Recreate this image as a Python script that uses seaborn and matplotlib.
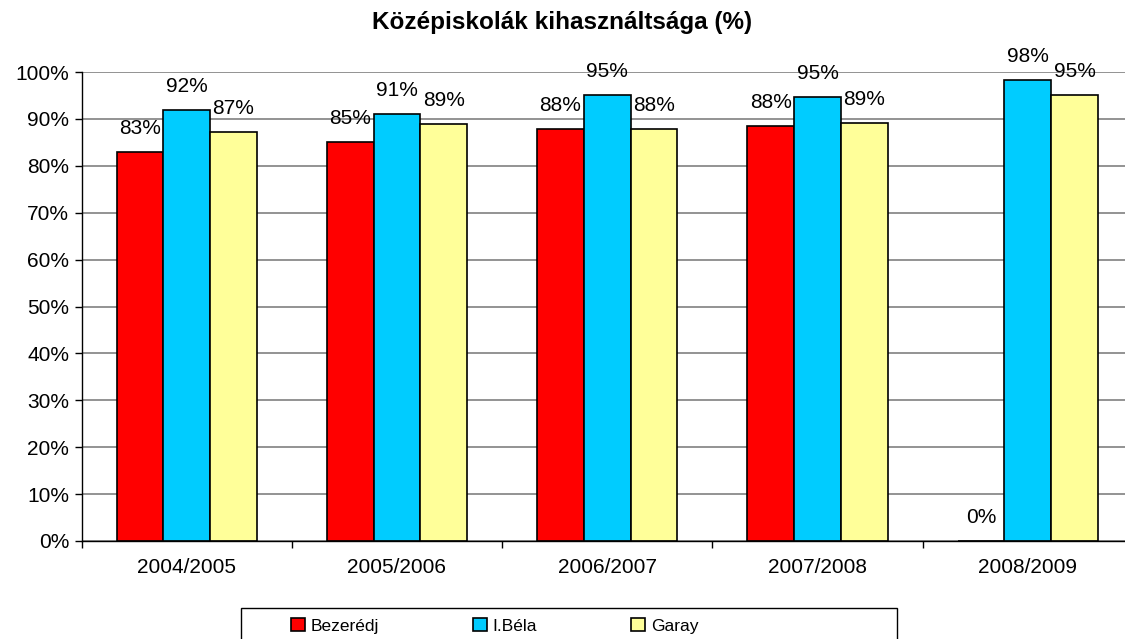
import matplotlib
matplotlib.use("Agg")
import matplotlib.pyplot as plt
import seaborn as sns
import pandas as pd
import numpy as np
from matplotlib.ticker import FixedLocator, PercentFormatter
from matplotlib.patches import Rectangle

years = ["2004/2005", "2005/2006", "2006/2007", "2007/2008", "2008/2009"]
schools = ["Bezerédj", "I.Béla", "Garay"]
bezeredj = [83.0, 85.0, 87.8, 88.5, 0.0]
ibela = [92.0, 91.0, 95.1, 94.7, 98.3]
garay = [87.3, 89.0, 87.8, 89.2, 95.1]
colors = ["#FF0000", "#00CCFF", "#FFFF99"]

rows = []
for s, vals in zip(schools, [bezeredj, ibela, garay]):
    for y, v in zip(years, vals):
        rows.append({"Év": y, "Iskola": s, "Érték": v})
df = pd.DataFrame(rows)

sns.set_theme(style="white")
plt.rcParams['font.family'] = ['Liberation Sans', 'DejaVu Sans']
plt.rcParams['text.color'] = 'black'
plt.rcParams['xtick.color'] = 'black'
plt.rcParams['ytick.color'] = 'black'
plt.rcParams['axes.labelcolor'] = 'black'

W, H = 1125, 639
fig = plt.figure(figsize=(W / 100, H / 100), dpi=100)
ax = fig.add_axes([81.5 / W, (H - 541) / H, 1051.5 / W, 469 / H])

sns.barplot(data=df, x="Év", y="Érték", hue="Iskola", order=years,
            hue_order=schools, palette=colors, width=0.667, saturation=1,
            edgecolor="black", linewidth=1.2, ax=ax, legend=True, errorbar=None)

for cont in ax.containers:
    labels = [f"{v:.0f}%" for v in cont.datavalues]
    ax.bar_label(cont, labels=labels, padding=10, fontsize=15, color='black')

ax.set_ylim(0, 100)
ax.set_xlim(-0.5, 4.5)
ax.set_yticks(np.arange(0, 101, 10))
ax.yaxis.set_major_formatter(PercentFormatter(decimals=0))
ax.tick_params(axis='y', labelsize=15, length=5, width=1, color='black', labelcolor='black',
               direction='out', left=True, pad=4)
ax.tick_params(axis='x', which='major', labelsize=15, length=0, pad=12, labelcolor='black')
ax.xaxis.set_minor_locator(FixedLocator(np.arange(-0.5, 5, 1.0)))
ax.tick_params(axis='x', which='minor', length=5, width=1, color='black', direction='out', bottom=True)
ax.yaxis.grid(True, color='#808080', linewidth=1.2)
ax.set_axisbelow(True)
for side in ['top', 'right']:
    ax.spines[side].set_visible(False)
for side in ['left', 'bottom']:
    ax.spines[side].set_color('black')
    ax.spines[side].set_linewidth(1)
ax.set_xlabel("")
ax.set_ylabel("")

fig.text(0.5, 1 - 23 / H, "Középiskolák kihasználtsága (%)", fontsize=17.5,
         fontweight='bold', ha='center', va='center', color='black')

handles, labs = ax.get_legend_handles_labels()
ax.get_legend().remove()

# legend box
fig.patches.append(Rectangle((241 / W, -10 / H), (897 - 241) / W, (H - 608 + 10) / H,
                             transform=fig.transFigure, facecolor='white',
                             edgecolor='black', linewidth=1, zorder=0))
leg = fig.legend(handles, labs, loc='center left', bbox_to_anchor=(282 / W, 1 - 626 / H),
                 ncol=3, fontsize=12.5, frameon=False,
                 handlelength=0.8, handleheight=0.8, handletextpad=0.35,
                 columnspacing=5.4, borderpad=0.0)
for t in leg.get_texts():
    t.set_color('black')

fig.savefig("out.png", dpi=100)
